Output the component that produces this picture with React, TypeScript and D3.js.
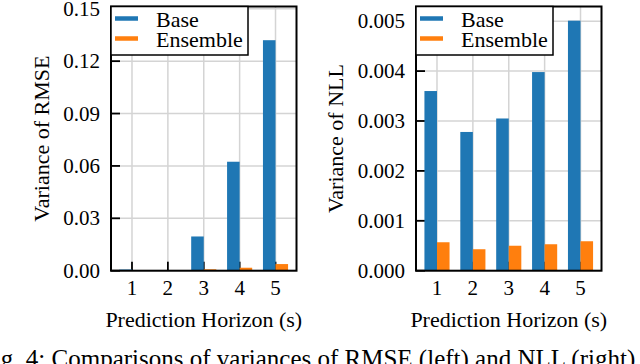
import React from "react";
import * as d3 from "d3";

const horizons = [1, 2, 3, 4, 5];
const rmseBase = [0.0007, 0.0001, 0.0196, 0.0624, 0.132];
const rmseEnsemble = [0.0001, 0.0001, 0.0008, 0.0017, 0.0038];
const rmseTicks = [0, 0.03, 0.06, 0.09, 0.12, 0.15];
const nllBase = [0.0036, 0.00278, 0.00305, 0.00398, 0.00501];
const nllEnsemble = [0.00057, 0.00043, 0.0005, 0.00053, 0.00059];
const nllTicks = [0, 0.001, 0.002, 0.003, 0.004, 0.005];

const BLUE = "#1f77b4";
const ORANGE = "#ff7f0e";
const FONT = "'Liberation Serif', 'Times New Roman', serif";
const FS = 21;
const LFS = 22;

type PanelProps = {
  left: number;
  base: number[];
  ensemble: number[];
  ticks: number[];
  yMax: number;
  fmt: (v: number) => string;
  ylabel: string;
  ylabelX: number;
};

function Panel({ left, base, ensemble, ticks, yMax, fmt, ylabel, ylabelX }: PanelProps) {
  const top = 6.5, bottom = 270.7, width = 185.5;
  const bw = 0.35;
  const x = d3.scaleLinear().domain([0.415, 5.585]).range([left, left + width]);
  const y = d3.scaleLinear().domain([0, yMax]).range([bottom, top]);
  const barW = x(bw) - x(0);

  return (
    <g fontFamily={FONT} fontSize={FS} fill="#000">
      {/* grid */}
      {ticks.map(t => (
        <line key={"gy" + t} x1={left} x2={left + width} y1={y(t)} y2={y(t)} stroke="#d4d4d4" strokeWidth={1.5} />
      ))}
      {horizons.map(h => (
        <line key={"gx" + h} x1={x(h)} x2={x(h)} y1={top} y2={bottom} stroke="#d4d4d4" strokeWidth={1.5} />
      ))}
      {/* inward ticks */}
      {ticks.map(t => (
        <line key={"ty" + t} x1={left} x2={left + 9} y1={y(t)} y2={y(t)} stroke="#000" strokeWidth={1.8} />
      ))}
      {horizons.map(h => (
        <line key={"tx" + h} x1={x(h)} x2={x(h)} y1={bottom} y2={bottom - 9} stroke="#000" strokeWidth={1.8} />
      ))}
      {/* bars */}
      {base.map((v, i) => (
        <rect key={"b" + i} x={x(horizons[i] - bw)} y={y(v)} width={barW} height={y(0) - y(v)} fill={BLUE} />
      ))}
      {ensemble.map((v, i) => (
        <rect key={"e" + i} x={x(horizons[i])} y={y(v)} width={barW} height={y(0) - y(v)} fill={ORANGE} />
      ))}
      {/* frame */}
      <rect x={left} y={top} width={width} height={bottom - top} fill="none" stroke="#000" strokeWidth={2} />
      {/* tick labels */}
      {ticks.map(t => (
        <text key={"ly" + t} x={left - 11} y={y(t) + 7} textAnchor="end">{fmt(t)}</text>
      ))}
      {horizons.map(h => (
        <text key={"lx" + h} x={x(h)} y={295} textAnchor="middle">{h}</text>
      ))}
      <text x={left + width / 2} y={327} textAnchor="middle" fontSize={LFS}>Prediction Horizon (s)</text>
      <text transform={`translate(${ylabelX},${(top + bottom) / 2}) rotate(-90)`} textAnchor="middle" fontSize={LFS}>{ylabel}</text>
      {/* legend */}
      <g fontSize={LFS}>
        <rect x={left} y={top} width={137} height={48.5} fill="#fff" stroke="#000" strokeWidth={1.5} />
        <line x1={left + 4} x2={left + 27} y1={18.5} y2={18.5} stroke={BLUE} strokeWidth={4.5} />
        <line x1={left + 4} x2={left + 27} y1={38.5} y2={38.5} stroke={ORANGE} strokeWidth={4.5} />
        <text x={left + 45} y={27}>Base</text>
        <text x={left + 45} y={47}>Ensemble</text>
      </g>
    </g>
  );
}

export default function App() {
  return (
    <svg width={640} height={364} style={{ position: "absolute", left: 0, top: 0, background: "#fff" }}>
      <Panel left={111} base={rmseBase} ensemble={rmseEnsemble} ticks={rmseTicks} yMax={0.1513}
        fmt={d3.format(".2f")} ylabel="Variance of RMSE" ylabelX={49} />
      <Panel left={416} base={nllBase} ensemble={nllEnsemble} ticks={nllTicks} yMax={0.005294}
        fmt={d3.format(".3f")} ylabel="Variance of NLL" ylabelX={343} />
      <text x={-20} y={367} fontFamily={FONT} fontSize={25}>
        Fig. 4: Comparisons of variances of RMSE (left) and NLL (right) of the base and ensemble models.
      </text>
    </svg>
  );
}
